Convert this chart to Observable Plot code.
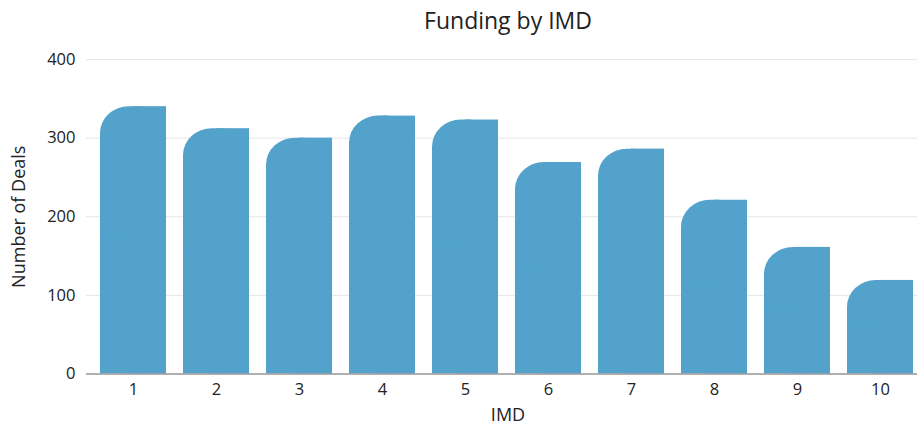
<!DOCTYPE html>
<html>
<head>
<meta charset="utf-8">
<script src="https://cdn.jsdelivr.net/npm/d3@7"></script>
<script src="https://cdn.jsdelivr.net/npm/@observablehq/plot@0.6"></script>
<style>
  body { margin: 0; background: #fff; }
</style>
</head>
<body>
<div id="chart"></div>
<script>
// IMD deciles and number of funded deals in each
const imd = ["1", "2", "3", "4", "5", "6", "7", "8", "9", "10"];
const deals = [340, 312, 300, 328, 323, 269, 286, 221, 161, 119];
const yTicks = [0, 100, 200, 300, 400];

const title = "Funding by IMD";
const xLabel = "IMD";
const yLabel = "Number of Deals";

const data = imd.map((d, i) => ({imd: d, deals: deals[i]}));
const barColor = "#52a2cc";

const chart = Plot.plot({
  width: 917,
  height: 426,
  marginTop: 59,
  marginBottom: 52.5,
  marginLeft: 86,
  marginRight: 0,
  style: {
    fontFamily: "'Open Sans', sans-serif",
    fontSize: "16.5px",
    color: "#222",
    background: "#fff",
    overflow: "hidden"
  },
  x: {domain: imd, range: [86, 926.6], paddingInner: 0.2, paddingOuter: 0.16, label: null},
  y: {domain: [0, 400], label: null},
  marks: [
    Plot.gridY(yTicks, {stroke: "#e6e6e6", strokeOpacity: 1}),
    // bars with only the top-left corner rounded: a rounded base,
    // squared off at the bottom and on the right half
    Plot.barY(data, {x: "imd", y: "deals", fill: barColor, rx: 29, ry: 27}),
    Plot.barY(data, {x: "imd", y1: 0, y2: (d) => d.deals / 2, fill: barColor}),
    Plot.barY(data, {x: "imd", y: "deals", fill: barColor, insetLeft: 33}),
    Plot.ruleY([0], {stroke: "#9a9a9a", strokeWidth: 1.5}),
    Plot.axisX({tickSize: 0, tickPadding: 9, label: null, fontSize: 16.5}),
    Plot.axisY(yTicks, {tickSize: 0, tickPadding: 11, label: null, fontSize: 16.5}),
    Plot.text([title], {frameAnchor: "top", lineAnchor: "middle", textAnchor: "middle", dy: -38, dx: 6, fontSize: 23, fill: "#222"}),
    Plot.text([xLabel], {frameAnchor: "bottom", lineAnchor: "middle", textAnchor: "middle", dy: 41, dx: 6, fontSize: 18, fill: "#222"}),
    Plot.text([yLabel], {frameAnchor: "left", lineAnchor: "middle", textAnchor: "middle", dx: -67, rotate: -90, fontSize: 18, fill: "#222"})
  ]
});

document.getElementById("chart").append(chart);
</script>
</body>
</html>
